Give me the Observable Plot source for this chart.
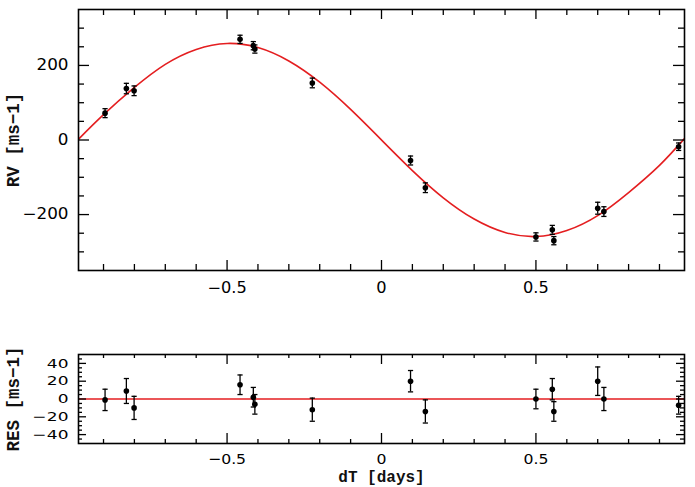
<!DOCTYPE html>
<html>
<head>
<meta charset="utf-8">
<script src="https://cdn.jsdelivr.net/npm/d3@7"></script>
<script src="https://cdn.jsdelivr.net/npm/@observablehq/plot@0.6"></script>
<style>
  html, body { margin: 0; padding: 0; background: #fff; }
  #chart { width: 695px; }
  #chart svg { display: block; }
</style>
</head>
<body>
<div id="chart"></div>
<script>
// ---- data ----
const obsT   = [-0.895, -0.826, -0.801, -0.458, -0.415, -0.410, -0.224, 0.094, 0.142, 0.500, 0.553, 0.558, 0.700, 0.720, 0.962];
const obsRV  = [72, 138, 132, 270, 253, 244, 153, -55, -128, -260, -241, -270, -183, -192, -18];
const obsErr = [12, 14, 13, 11, 11, 11, 13, 12, 13, 11, 12, 11, 16, 13, 10];
const obsRes = [-1, 9, -10, 16, 2, -6, -12, 20, -14, 0, 11, -14, 20, 0, -7];

// fitted model curve, read at a few phases from the picture
const curveT = [-0.98, -0.9, -0.8, -0.7, -0.6, -0.5, -0.4, -0.3, -0.2, -0.1, 0, 0.1, 0.2, 0.3, 0.4, 0.5, 0.6, 0.7, 0.8, 0.9, 0.98];
const curveV = [3, 68, 141, 203, 243, 259, 248, 212, 155, 82, 0, -82, -155, -212, -248, -259, -243, -203, -141, -68, 3];

// ticks
const xMajor = [-0.5, 0, 0.5];
const xTickLabels = ["\u22120.5", "0", "0.5"];
const xMinor = [-0.9, -0.8, -0.7, -0.6, -0.4, -0.3, -0.2, -0.1, 0.1, 0.2, 0.3, 0.4, 0.6, 0.7, 0.8, 0.9];
const rvMajor = [-200, 0, 200];
const rvTickLabels = ["\u2212200", "0", "200"];
const rvMinor = [-300, -250, -150, -100, -50, 50, 100, 150, 250, 300];
const resMajor = [-40, -20, 0, 20, 40];
const resTickLabels = ["\u221240", "\u221220", "0", "20", "40"];
const resMinor = [-45, -35, -30, -25, -15, -10, -5, 5, 10, 15, 25, 30, 35, 45];

const xLabel = "dT [days]";
const rvLabel = "RV [ms\u22121]";
const resLabel = "RES [ms\u22121]";

// ---- build tables ----
const obs = obsT.map((t, i) => ({t, rv: obsRV[i], err: obsErr[i], res: obsRes[i]}));
const curve = curveT.map((t, i) => ({t, v: curveV[i]}));

const RED = "#e41e20";
const W = 695, ML = 78, MR = 11;
const frameW = W - ML - MR;

const cap = {
  draw(ctx, size) {
    const r = Math.sqrt(size / Math.PI);
    ctx.moveTo(-r, 0);
    ctx.lineTo(r, 0);
  }
};

function frameTicks(xMaj, xMin, yMaj, yMin, frameH, lx, sx, ly, sy) {
  return [
    Plot.tickX(xMaj, {x: d => d, insetTop: frameH - lx, strokeWidth: 1.3}),
    Plot.tickX(xMaj, {x: d => d, insetBottom: frameH - lx, strokeWidth: 1.3}),
    Plot.tickX(xMin, {x: d => d, insetTop: frameH - sx, strokeWidth: 1.3}),
    Plot.tickX(xMin, {x: d => d, insetBottom: frameH - sx, strokeWidth: 1.3}),
    Plot.tickY(yMaj, {y: d => d, insetRight: frameW - ly, strokeWidth: 1.3}),
    Plot.tickY(yMaj, {y: d => d, insetLeft: frameW - ly, strokeWidth: 1.3}),
    Plot.tickY(yMin, {y: d => d, insetRight: frameW - sy, strokeWidth: 1.3}),
    Plot.tickY(yMin, {y: d => d, insetLeft: frameW - sy, strokeWidth: 1.3})
  ];
}

function errMarks(yKey) {
  return [
    Plot.ruleX(obs, {x: "t", y1: d => d[yKey] - d.err, y2: d => d[yKey] + d.err, stroke: "black", strokeWidth: 1.3}),
    Plot.dot(obs, {x: "t", y: d => d[yKey] - d.err, symbol: cap, r: 2.6, stroke: "black", strokeWidth: 1.3, fill: "none"}),
    Plot.dot(obs, {x: "t", y: d => d[yKey] + d.err, symbol: cap, r: 2.6, stroke: "black", strokeWidth: 1.3, fill: "none"}),
    Plot.dot(obs, {x: "t", y: yKey, r: 2.8, fill: "black", stroke: "none"})
  ];
}

const TOP_H = 312, TOP_MT = 9, TOP_MB = 42;
const topFrameH = TOP_H - TOP_MT - TOP_MB;

const topPlot = Plot.plot({
  width: W, height: TOP_H,
  marginLeft: ML, marginRight: MR, marginTop: TOP_MT, marginBottom: TOP_MB,
  x: {domain: [-0.981, 0.981]},
  y: {domain: [-350, 350]},
  style: {fontFamily: "DejaVu Sans", fontSize: "15px", color: "black", background: "white"},
  marks: [
    Plot.line(curve, {x: "t", y: "v", stroke: RED, strokeWidth: 1.6, curve: "natural"}),
    ...errMarks("rv"),
    ...frameTicks(xMajor, xMinor, rvMajor, rvMinor, topFrameH, 10, 6, 11, 6),
    Plot.frame({stroke: "black", strokeWidth: 1.6}),
    Plot.axisX(xMajor, {tickSize: 0, tickPadding: 12, label: null, fontSize: 15, tickFormat: (d, i) => xTickLabels[i]}),
    Plot.axisY(rvMajor, {tickSize: 0, tickPadding: 10, label: null, fontSize: 15, tickFormat: (d, i) => rvTickLabels[i]}),
    Plot.text([rvLabel], {frameAnchor: "left", dx: -65, rotate: -90, textAnchor: "middle",
      fontFamily: "Liberation Mono", fontSize: 17.5, fontWeight: "bold", fill: "#111"})
  ]
});

const BOT_H = 175, BOT_MT = 42, BOT_MB = 44;
const botFrameH = BOT_H - BOT_MT - BOT_MB;

const botPlot = Plot.plot({
  width: W, height: BOT_H,
  marginLeft: ML, marginRight: MR, marginTop: BOT_MT, marginBottom: BOT_MB,
  x: {domain: [-0.981, 0.981]},
  y: {domain: [-50, 50]},
  style: {fontFamily: "DejaVu Sans", fontSize: "15px", color: "black", background: "white"},
  marks: [
    Plot.ruleY([0], {stroke: RED, strokeWidth: 1.6}),
    ...errMarks("res"),
    ...frameTicks(xMajor, xMinor, resMajor, resMinor, botFrameH, 10, 4, 8, 4),
    Plot.frame({stroke: "black", strokeWidth: 1.6}),
    Plot.axisX(xMajor, {tickSize: 0, tickPadding: 10, label: null, fontSize: 14.5, tickFormat: (d, i) => xTickLabels[i]}),
    Plot.axisY(resMajor, {tickSize: 0, tickPadding: 10, label: null, fontSize: 12.8, tickFormat: (d, i) => resTickLabels[i]}),
    Plot.text([resLabel], {frameAnchor: "left", dx: -65, rotate: -90, textAnchor: "middle",
      fontFamily: "Liberation Mono", fontSize: 17.5, fontWeight: "bold", fill: "#111"}),
    Plot.text([xLabel], {frameAnchor: "bottom", dy: 27, lineAnchor: "top", textAnchor: "middle",
      fontFamily: "Liberation Mono", fontSize: 16, fontWeight: "bold", fill: "#111"})
  ]
});

// widen tick label glyphs slightly to match the stretched original lettering
function stretch(svg, sel, s) {
  svg.querySelectorAll(sel).forEach(t => {
    const tr = t.getAttribute("transform") || "";
    t.setAttribute("transform", tr + ` scale(${s},1)`);
  });
}
stretch(topPlot, 'g[aria-label="y-axis tick label"] text', 1.12);
stretch(topPlot, 'g[aria-label="x-axis tick label"] text', 1.08);
stretch(botPlot, 'g[aria-label="y-axis tick label"] text', 1.33);
stretch(botPlot, 'g[aria-label="x-axis tick label"] text', 1.08);

document.getElementById("chart").append(topPlot, botPlot);
</script>
</body>
</html>
